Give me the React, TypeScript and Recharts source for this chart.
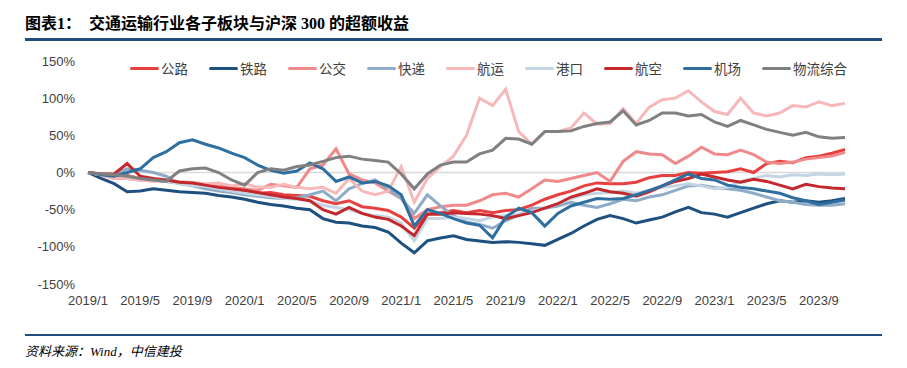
import { CartesianGrid, Line, LineChart, ReferenceLine, XAxis, YAxis } from "recharts";

const months = [
  "2019/1", "2019/2", "2019/3", "2019/4", "2019/5", "2019/6", "2019/7", "2019/8", "2019/9", "2019/10", "2019/11", "2019/12",
  "2020/1", "2020/2", "2020/3", "2020/4", "2020/5", "2020/6", "2020/7", "2020/8", "2020/9", "2020/10", "2020/11", "2020/12",
  "2021/1", "2021/2", "2021/3", "2021/4", "2021/5", "2021/6", "2021/7", "2021/8", "2021/9", "2021/10", "2021/11", "2021/12",
  "2022/1", "2022/2", "2022/3", "2022/4", "2022/5", "2022/6", "2022/7", "2022/8", "2022/9", "2022/10", "2022/11", "2022/12",
  "2023/1", "2023/2", "2023/3", "2023/4", "2023/5", "2023/6", "2023/7", "2023/8", "2023/9", "2023/10", "2023/11",
];

const tickLabels = [
  "2019/1", "2019/5", "2019/9", "2020/1", "2020/5", "2020/9", "2021/1", "2021/5",
  "2021/9", "2022/1", "2022/5", "2022/9", "2023/1", "2023/5", "2023/9",
];

const yTicks = [-150, -100, -50, 0, 50, 100, 150];

// 超额收益 (%)，按月读取
const gonglu = [
  0, -3, -5, -4, -8, -9, -12, -13, -16, -19,
  -21, -24, -27, -28, -27, -30, -31, -32, -38, -42,
  -38, -46, -48, -51, -60, -75, -56, -54, -51, -54,
  -51, -54, -51, -50, -44, -36, -30, -25, -18, -14,
  -15, -15, -13, -7, -4, -4, 0, -1, 0, 1,
  5, 0, 12, 15, 13, 20, 22, 26, 31,
];
const tielu = [
  0, -8, -15, -26, -25, -22, -24, -26, -27, -28,
  -31, -33, -36, -40, -43, -45, -48, -50, -62, -67,
  -68, -72, -74, -80, -95, -108, -92, -88, -85, -90,
  -92, -94, -93, -94, -96, -98, -90, -82, -72, -63,
  -58, -62, -68, -64, -60, -53, -47, -54, -56, -60,
  -54, -48, -42, -38, -40, -38, -40, -38, -35,
];
const gongjiao = [
  0, -3, -8, -8, -10, -10, -12, -14, -15, -17,
  -18, -20, -22, -24, -16, -18, -20, 5, 10, 32,
  -2, -10, -14, -25, -35, -62, -50, -46, -44, -44,
  -38, -30, -28, -33, -22, -10, -12, -8, -4, 0,
  -12, 15, 28, 25, 24, 12, 22, 34, 25, 24,
  30, 24, 14, 12, 14, 18, 20, 22, 27,
];
const kuaidi = [
  0, -2, -3, 5, 3, 0, -5, -15, -18, -22,
  -25, -27, -30, -32, -34, -35, -34, -30, -25, -38,
  -22, -15, -10, -22, -35, -55, -30, -45, -58, -67,
  -70, -75, -65, -57, -48, -48, -45, -40, -44, -47,
  -42, -36, -38, -33, -30, -24, -18, -17, -20, -22,
  -24, -28, -33, -38, -40, -43, -44, -44, -42,
];
const hangyun = [
  0, -3, -8, -8, -10, -12, -10, -12, -13, -15,
  -14, -18, -15, -20, -20, -16, -20, -22, -20, -28,
  -8, -25, -30, -25, 8, -40, -8, 8, 22, 50,
  100, 90, 112, 55, 38, 55, 55, 60, 80, 65,
  66, 86, 66, 88, 98, 100, 110, 95, 82, 78,
  100, 80, 76, 80, 90, 88, 95, 90, 93,
];
const gangkou = [
  0, -3, -2, -5, -8, -10, -12, -15, -17, -19,
  -22, -25, -28, -30, -32, -35, -36, -38, -44, -47,
  -50, -55, -58, -60, -68, -92, -62, -62, -60, -62,
  -65, -60, -58, -56, -52, -48, -42, -35, -30, -28,
  -27, -25, -28, -24, -20, -18, -15, -18, -22, -20,
  -12, -8, -4, -6, -3, -4, -2, -3, -2,
];
const hangkong = [
  0, -2, -2, 12, -5, -8, -10, -13, -14, -17,
  -20, -22, -24, -27, -30, -33, -35, -38, -50, -56,
  -47, -55, -60, -63, -72, -85, -56, -56, -54, -55,
  -56, -58, -62, -58, -54, -48, -42, -33, -28, -22,
  -26, -28, -32, -26, -18, -12, -8, -2, -6, -10,
  -13, -9, -12, -17, -22, -16, -19, -21, -22,
];
const jichang = [
  0, -3, -5, 0, 5, 20, 28, 40, 44, 38,
  33, 26, 20, 10, 3, -1, 2, 13, 5, -12,
  -6, -14, -12, -18, -30, -72, -50, -55, -62, -68,
  -71, -88, -60, -48, -54, -72, -55, -45, -40, -35,
  -36, -35, -30, -24, -18, -10, -2, -8, -10, -17,
  -20, -22, -25, -28, -34, -38, -43, -40, -37,
];
const wuliu = [
  0, -2, -3, -5, -8, -10, -12, 2, 5, 6,
  0, -10, -17, 0, 5, 3, 8, 10, 15, 20,
  22, 18, 16, 14, -2, -22, -2, 10, 14, 14,
  25, 30, 46, 45, 38, 55, 55, 56, 62, 66,
  68, 83, 64, 70, 80, 80, 76, 78, 68, 62,
  70, 64, 58, 54, 50, 54, 48, 46, 47,
];

const seriesNames = ["公路", "铁路", "公交", "快递", "航运", "港口", "航空", "机场", "物流综合"];
const seriesValues = [gonglu, tielu, gongjiao, kuaidi, hangyun, gangkou, hangkong, jichang, wuliu];
const seriesColors = [
  "#e8403f", "#1d4f7f", "#f08a8a", "#8eacc7", "#f6b8b8",
  "#c3d4e4", "#c4282c", "#2f6f9f", "#808080",
];

const data = months.map((month, i) => {
  const row: Record<string, string | number> = { month };
  seriesNames.forEach((name, s) => {
    row[name] = seriesValues[s][i];
  });
  return row;
});

const axisTick = { fill: "#404040", fontSize: 13, fontFamily: "'Liberation Sans', Arial, sans-serif" };
const cjk = "'Liberation Serif', 'Noto Sans CJK SC', serif";

export default function App() {
  return (
    <div
      style={{
        position: "absolute",
        left: 0,
        top: 0,
        width: 907,
        height: 368,
        background: "#fff",
        overflow: "hidden",
      }}
    >
      <div
        style={{
          position: "absolute",
          left: 25,
          top: 14,
          fontSize: 16,
          fontWeight: "bold",
          fontFamily: cjk,
          whiteSpace: "pre",
          color: "#000",
          lineHeight: "20px",
        }}
      >
        图表1：  交通运输行业各子板块与沪深 300 的超额收益
      </div>
      <div style={{ position: "absolute", left: 25, top: 38, width: 857, height: 3, background: "#1f4e79" }} />

      <div
        style={{
          position: "absolute",
          left: 130,
          top: 58,
          height: 20,
          display: "flex",
          alignItems: "center",
          whiteSpace: "nowrap",
          fontFamily: "'Noto Sans CJK SC', sans-serif",
          fontSize: 13.5,
          color: "#404040",
        }}
      >
        {seriesNames.map((name, s) => (
          <div key={name} style={{ display: "flex", alignItems: "center", width: 79, flexShrink: 0 }}>
            <span
              style={{
                width: 29,
                height: 3,
                borderRadius: 1.5,
                background: seriesColors[s],
                marginRight: 2,
                flexShrink: 0,
              }}
            />
            <span>{name}</span>
          </div>
        ))}
      </div>

      <div style={{ position: "absolute", left: 0, top: 0 }}>
        <LineChart width={907} height={320} data={data} margin={{ top: 61, right: 62, left: 0, bottom: 6 }}>
          <CartesianGrid horizontal={false} vertical={false} />
          <XAxis
            dataKey="month"
            type="category"
            ticks={tickLabels}
            interval={0}
            axisLine={false}
            tickLine={false}
            tickSize={0}
            tickMargin={12}
            height={30}
            tick={axisTick}
          />
          <YAxis
            type="number"
            domain={[-150, 150]}
            ticks={yTicks}
            width={88}
            axisLine={false}
            tickLine={false}
            tickSize={0}
            tickMargin={13}
            tick={axisTick}
            tickFormatter={(v: number) => `${v}%`}
          />
          <ReferenceLine y={0} stroke="#d9d9d9" strokeWidth={1.5} />
          {seriesNames.map((name, s) => (
            <Line
              key={name}
              type="linear"
              dataKey={name}
              stroke={seriesColors[s]}
              strokeWidth={3}
              dot={false}
              isAnimationActive={false}
            />
          ))}
        </LineChart>
      </div>

      <div style={{ position: "absolute", left: 25, top: 334, width: 857, height: 2, background: "#1f4e79" }} />
      <div
        style={{
          position: "absolute",
          left: 25,
          top: 343,
          fontSize: 13,
          fontStyle: "italic",
          fontFamily: cjk,
          color: "#000",
          lineHeight: "18px",
        }}
      >
        资料来源：Wind，中信建投
      </div>
    </div>
  );
}
